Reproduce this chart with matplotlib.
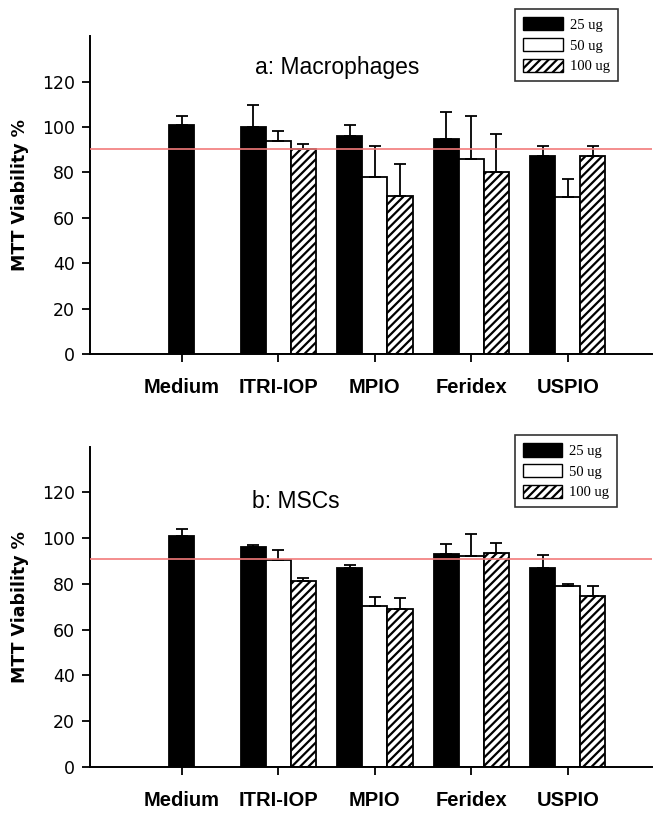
import matplotlib
matplotlib.use("Agg")
import matplotlib.pyplot as plt
from matplotlib.patches import Patch
import numpy as np

categories = ["Medium", "ITRI-IOP", "MPIO", "Feridex", "USPIO"]
doses = ["25 ug", "50 ug", "100 ug"]

# Panel a: Macrophages
mac_25 = [101, 100, 96, 94.5, 87]
mac_25_err = [4, 9.7, 5, 12, 4.4]
mac_50 = [None, 94, 78, 86, 69]
mac_50_err = [None, 4, 13.5, 19, 8]
mac_100 = [None, 90.3, 69.5, 80.3, 87.2]
mac_100_err = [None, 2, 14, 16.7, 4.4]
mac_ref = 90.3

# Panel b: MSCs
msc_25 = [101, 96, 87, 93, 87]
msc_25_err = [3, 1.1, 1.3, 4.3, 5.5]
msc_50 = [None, 90.4, 70.5, 92, 79]
msc_50_err = [None, 4.3, 4, 10, 0.9]
msc_100 = [None, 81.2, 69.2, 93.7, 74.6]
msc_100_err = [None, 1.3, 4.7, 4, 4.4]
msc_ref = 90.8

plt.rcParams["hatch.linewidth"] = 1.6

fig = plt.figure(figsize=(6.54, 8.13), dpi=100)
ax_a = fig.add_axes([0.1376, 0.5646, 0.859, 0.391])
ax_b = fig.add_axes([0.1376, 0.0566, 0.859, 0.394])

W = 0.26


def draw(ax, s25, e25, s50, e50, s100, e100, ref, title, tpos, legpos):
    x = np.arange(len(categories))
    ekw = dict(ecolor="black", elinewidth=1.3, capsize=4.5, capthick=1.3)
    styles = [dict(color="black", edgecolor="black", hatch=None),
              dict(color="white", edgecolor="black", hatch=None),
              dict(color="white", edgecolor="black", hatch="////")]
    series = [(s25, e25), (s50, e50), (s100, e100)]
    for k, (vals, errs) in enumerate(series):
        for i, (v, e) in enumerate(zip(vals, errs)):
            if v is None:
                continue
            off = 0 if i == 0 else (k - 1) * W
            ax.bar(x[i] + off, v, W, yerr=[[0], [e]], linewidth=1.3,
                   error_kw=ekw, zorder=2, **styles[k])
    ax.axhline(ref, color="#f27a7a", lw=1.2, zorder=3)
    ax.set_xlim(-0.953, 4.87)
    ax.set_ylim(0, 140)
    ax.set_yticks([0, 20, 40, 60, 80, 100, 120])
    ax.set_xticks(x)
    ax.set_xticklabels(categories, fontfamily="Liberation Sans",
                       fontweight="bold", fontsize=14.5)
    for lab in ax.get_yticklabels():
        lab.set_fontfamily("DejaVu Sans")
        lab.set_fontsize(12.5)
    ax.tick_params(axis="y", length=6, width=1.3, pad=5, direction="out")
    ax.tick_params(axis="x", length=6, width=1.3, pad=11, direction="out")
    for s in ["top", "right"]:
        ax.spines[s].set_visible(False)
    for s in ["left", "bottom"]:
        ax.spines[s].set_linewidth(1.4)
    ax.set_ylabel("MTT Viability %", fontfamily="DejaVu Sans",
                  fontweight="bold", fontsize=12.5, labelpad=9)
    ax.text(tpos[0], tpos[1], title, transform=ax.transAxes, ha="center",
            va="center", fontfamily="Liberation Sans", fontsize=16.5)
    handles = [Patch(facecolor="black", edgecolor="black"),
               Patch(facecolor="white", edgecolor="black"),
               Patch(facecolor="white", edgecolor="black", hatch="////")]
    leg = fig.legend(handles, doses, loc="upper right", bbox_to_anchor=legpos,
                     bbox_transform=fig.transFigure,
                     prop=dict(family="Liberation Serif", size=10.5),
                     frameon=True, fancybox=False, edgecolor="black",
                     handlelength=2.7, handleheight=1.05, handletextpad=0.5,
                     labelspacing=0.42, borderpad=0.55, borderaxespad=0)
    leg.get_frame().set_linewidth(1.2)


draw(ax_a, mac_25, mac_25_err, mac_50, mac_50_err, mac_100, mac_100_err,
     mac_ref, "a: Macrophages", (0.44, 0.90), (0.945, 0.989))
draw(ax_b, msc_25, msc_25_err, msc_50, msc_50_err, msc_100, msc_100_err,
     msc_ref, "b: MSCs", (0.367, 0.83), (0.944, 0.465))

fig.savefig("out.png", dpi=100)
